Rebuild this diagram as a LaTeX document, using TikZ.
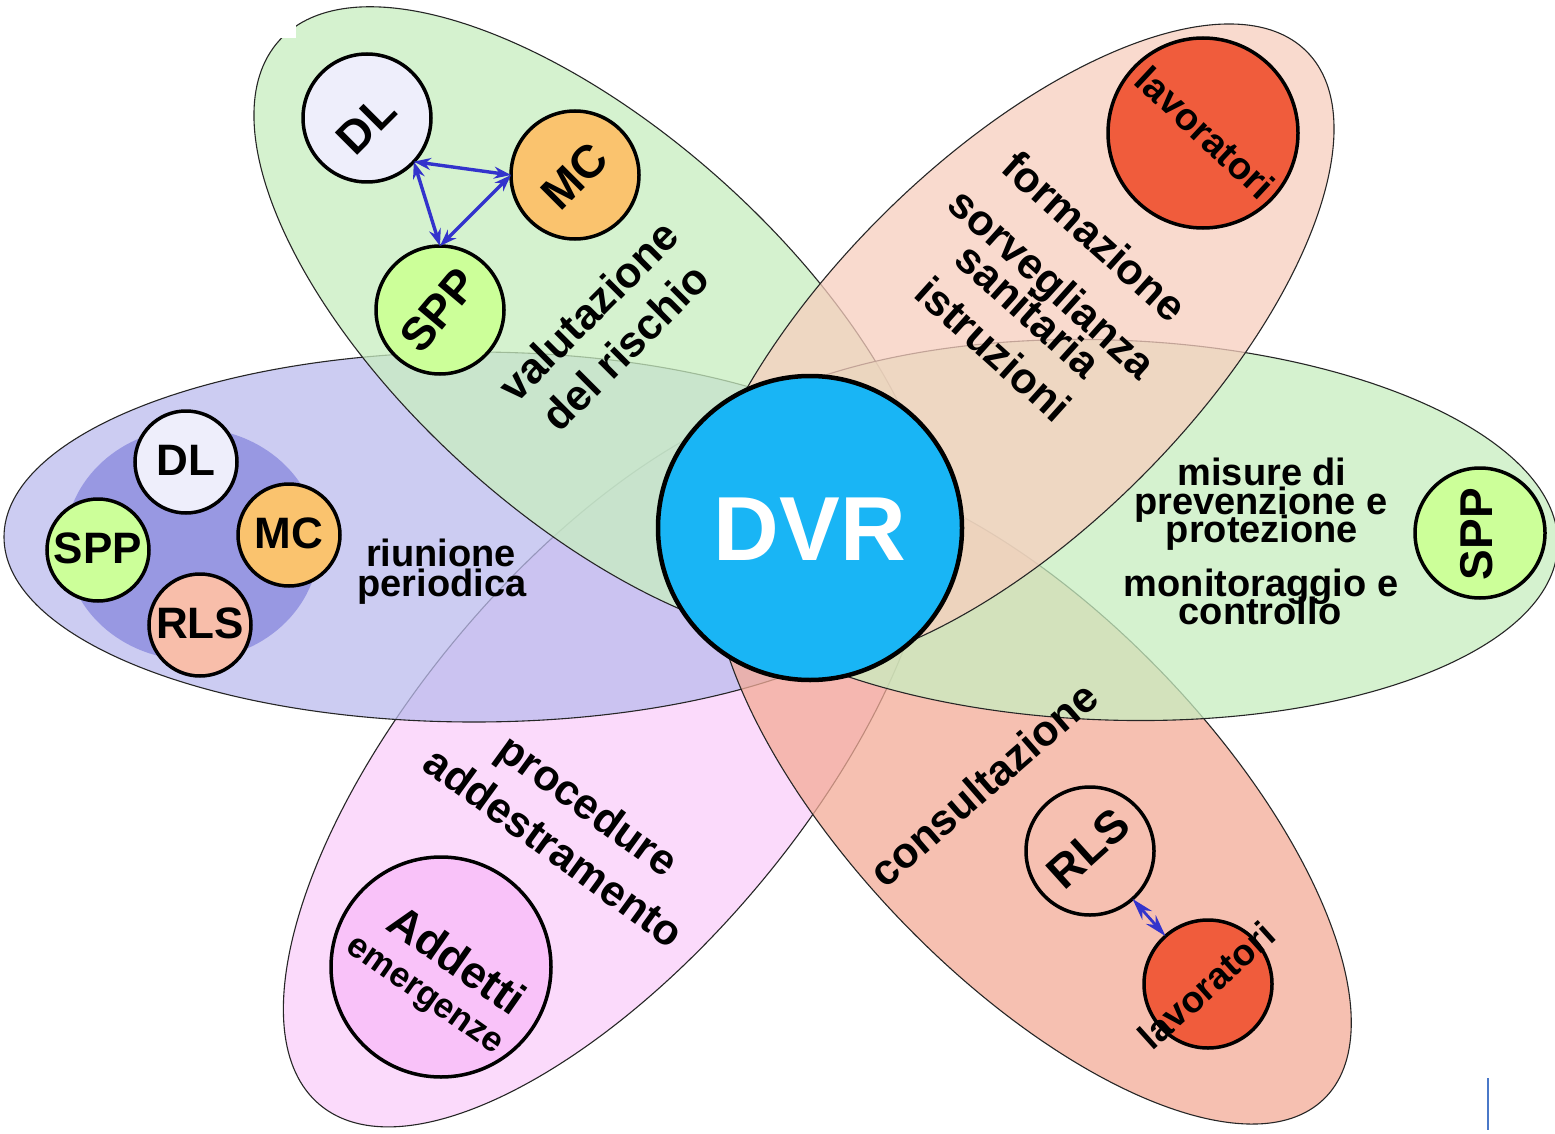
\documentclass[tikz,border=0pt]{standalone}
\usepackage{fontspec}
\setmainfont{Liberation Sans}
\usetikzlibrary{shapes.geometric,arrows.meta}
\definecolor{cGreen}{RGB}{200,238,192}
\definecolor{cRedTR}{RGB}{247,206,190}
\definecolor{cRedBR}{RGB}{243,172,152}
\definecolor{cBlue}{RGB}{188,188,238}
\definecolor{cPink}{RGB}{250,206,250}
\definecolor{cBlueIn}{RGB}{152,152,226}
\definecolor{cDL}{RGB}{238,238,251}
\definecolor{cMC}{RGB}{250,195,110}
\definecolor{cSPP}{RGB}{204,255,153}
\definecolor{cRLS}{RGB}{248,190,170}
\definecolor{cLav}{RGB}{240,92,60}
\definecolor{cAdd}{RGB}{249,194,249}
\definecolor{cDVR}{RGB}{25,181,245}
\definecolor{cArrow}{RGB}{51,51,204}
\definecolor{cCursor}{RGB}{74,120,200}
\newcommand\myfs[1]{\fontsize{#1}{#1}\selectfont\bfseries}
\begin{document}
\begin{tikzpicture}[x=1pt,y=1pt,
  petal/.style={ellipse, draw=black!85, line width=1.1pt, fill opacity=0.75, inner sep=0pt, outer sep=0pt},
  disc/.style={circle, draw=black, line width=3.5pt, inner sep=0pt, outer sep=0pt, minimum size=#1},
  s43/.style={font=\myfs{43}, text height=22.3pt, text depth=0pt, inner sep=0pt},
  s38/.style={font=\myfs{38}, text height=19.7pt, text depth=0pt, inner sep=0pt},
  s37/.style={font=\myfs{37}, text height=19.2pt, text depth=0pt, inner sep=0pt},
  s45/.style={font=\myfs{45}, text height=23.4pt, text depth=0pt, inner sep=0pt},
  s35/.style={font=\myfs{35}, text height=18.2pt, text depth=0pt, inner sep=0pt},
  c44/.style={font=\myfs{44}, text height=31.5pt, text depth=0pt, inner sep=0pt},
  c46/.style={font=\myfs{46}, text height=32.9pt, text depth=0pt, inner sep=0pt},
  arr/.style={{Stealth[open,length=17pt,width=12pt]}-{Stealth[open,length=17pt,width=12pt]}, draw=cArrow, line width=3.4pt},
  arrb/.style={{Stealth[open,length=22pt,width=13pt]}-{Stealth[open,length=22pt,width=13pt]}, draw=cArrow, line width=2.8pt}
]
\useasboundingbox (0,0) rectangle (1555,-1134);
\fill[white] (0,0) rectangle (1555,-1134);

% petals (bottom to top)
\node[petal, fill=cPink, minimum width=900pt, minimum height=390pt, rotate=50] (pPink) at (609,-760) {};
\node[petal, fill=cBlue, minimum width=940pt, minimum height=370pt] (pBlue) at (474,-537) {};
\node[petal, fill=cRedBR, minimum width=840pt, minimum height=360pt, rotate=-46] (pRedBR) at (1032,-797) {};
\node[petal, fill=cGreen, minimum width=850pt, minimum height=384pt, rotate=-42] (pGreenTL) at (595,-325) {};
\node[petal, fill=cGreen, minimum width=896pt, minimum height=380pt, rotate=-2] (pGreenR) at (1110,-530) {};
\node[petal, fill=cRedTR, minimum width=836pt, minimum height=368pt, rotate=45] (pRedTR) at (1011,-347) {};

\fill[white] (240,0) rectangle (296,-38);

% valutazione del rischio
\node[disc=128pt, fill=cDL] (dl1) at (367,-118) {};
\node[disc=128pt, fill=cMC] (mc1) at (575,-175) {};
\node[disc=128pt, fill=cSPP] (spp1) at (440,-310) {};
\node[c46, rotate=45] (tdl1) at (366,-124) {DL};
\node[c46, rotate=45] (tmc1) at (574,-176) {MC};
\node[c46, rotate=50] (tspp1) at (438,-310) {SPP};
\draw[arr] (dl1.-43) -- (mc1.west);
\draw[arr] (dl1.-43) -- (spp1.north);
\draw[arr] (mc1.west) -- (spp1.north);
\node[s43, rotate=45] (tval) at (591,-314) {valutazione};
\node[s43, rotate=45] (tdel) at (628,-350) {del rischio};

% riunione periodica
\node[ellipse, fill=cBlueIn, minimum width=254pt, minimum height=232pt, inner sep=0pt] (bin) at (192,-544) {};
\node[disc=102pt, fill=cDL] (dl2) at (186,-462) {};
\node[disc=102pt, fill=cMC] (mc2) at (289,-535) {};
\node[disc=102pt, fill=cSPP] (spp2) at (98,-550) {};
\node[disc=102pt, fill=cRLS] (rls1) at (200,-625) {};
\node[c44] (tdl2) at (186,-460) {DL};
\node[c44] (tmc2) at (289,-533) {MC};
\node[c44] (tspp2) at (98,-548) {SPP};
\node[c44] (trls1) at (200,-623) {RLS};
\node[s38] (triu) at (441,-557) {riunione};
\node[s38] (tper) at (442,-587) {periodica};

% formazione
\node[disc=190pt, fill=cLav] (lav1) at (1203,-133) {};
\node[s38, rotate=-43] (tlav1) at (1203,-135) {lavoratori};
\node[s43, rotate=-42] (tfor) at (1092,-239) {formazione};
\node[s43, rotate=-42] (tsor) at (1050,-286) {sorveglianza};
\node[s43, rotate=-42] (tsan) at (1026,-313) {sanitaria};
\node[s43, rotate=-42] (tist) at (991,-352) {istruzioni};

% misure
\node[disc=130pt, fill=cSPP] (spp3) at (1480,-533) {};
\node[c46, rotate=90] (tspp3) at (1476,-534) {SPP};
\node[s38] (tmis) at (1262,-476) {misure di};
\node[s38] (tpre) at (1261,-505) {prevenzione e};
\node[s38] (tpro) at (1262,-533) {protezione};
\node[s38] (tmon) at (1261,-587) {monitoraggio e};
\node[s38] (tcon) at (1260,-615) {controllo};

% consultazione
\node[disc=128pt] (rls2) at (1090,-851) {};
\node[disc=128pt, fill=cLav] (lav2) at (1208,-984) {};
\node[c46, rotate=42] (trls2) at (1088,-848) {RLS};
\node[s37, rotate=42] (tlav2) at (1209,-988) {lavoratori};
\draw[arrb] (rls2) -- (lav2);
\node[s43, rotate=41] (tcons) at (986,-787) {consultazione};

% procedure
\node[disc=220pt, fill=cAdd] (add) at (441,-967) {};
\node[s45, rotate=-35] (tadd) at (455,-963) {Addetti};
\node[s35, rotate=-35] (teme) at (425,-995) {emergenze};
\node[s43, rotate=-36] (tproc) at (586,-808) {procedure};
\node[s43, rotate=-36] (taddr) at (552,-850) {addestramento};

% DVR
\node[circle, draw=black, line width=4.5pt, fill=cDVR, minimum size=304pt, inner sep=0pt,
      font=\myfs{91}, text=white, text height=65pt, text depth=0pt] (dvr) at (810,-528) {DVR};

% stray cursor line
\coordinate (cur1) at (1488,-1078);
\coordinate (cur2) at (1488,-1130);
\draw[draw=cCursor, line width=2pt] (cur1) -- (cur2);
\end{tikzpicture}
\end{document}
